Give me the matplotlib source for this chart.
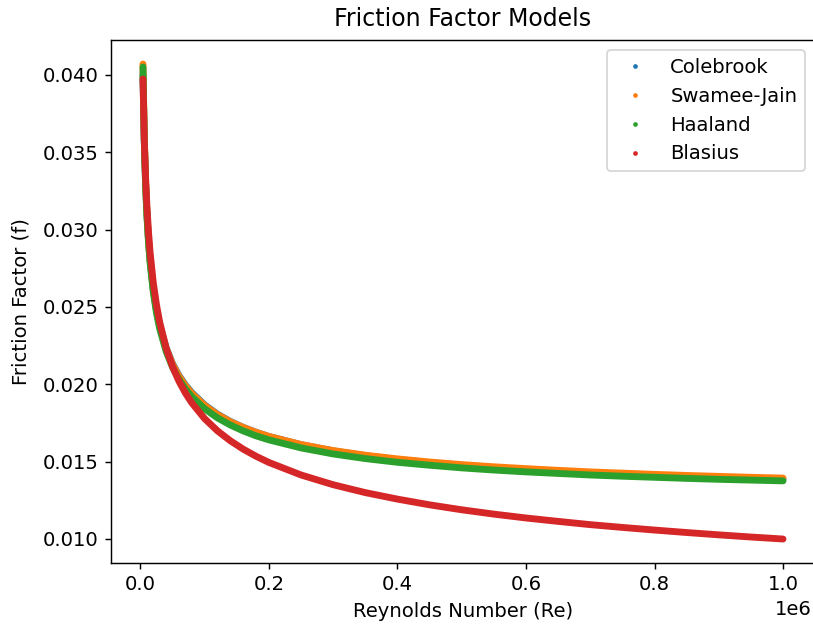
import matplotlib
matplotlib.use('Agg')
import matplotlib.pyplot as plt
from matplotlib.lines import Line2D

# Reynolds numbers and friction factors for each model
re = [4000, 6000, 8000, 10000, 12500, 15000, 20000, 25000, 30000, 40000,
      50000, 60000, 70000, 80000, 100000, 120000, 140000, 160000, 180000, 200000,
      250000, 300000, 350000, 400000, 450000, 500000, 550000, 600000, 650000, 700000,
      750000, 800000, 850000, 900000, 950000, 1000000]

f_colebrook = [0.04000, 0.03570, 0.03306, 0.03108, 0.02936, 0.02805, 0.02616, 0.02483, 0.02381, 0.02236,
               0.02133, 0.02056, 0.01995, 0.01945, 0.01866, 0.01806, 0.01759, 0.01721, 0.01689, 0.01662,
               0.01609, 0.01569, 0.01538, 0.01513, 0.01493, 0.01476, 0.01461, 0.01449, 0.01438, 0.01428,
               0.01419, 0.01411, 0.01404, 0.01397, 0.01391, 0.01385]

f_swamee = [0.04070, 0.03601, 0.03317, 0.03120, 0.02941, 0.02807, 0.02614, 0.02479, 0.02377, 0.02231,
            0.02128, 0.02051, 0.01990, 0.01940, 0.01862, 0.01803, 0.01757, 0.01720, 0.01689, 0.01662,
            0.01610, 0.01571, 0.01541, 0.01517, 0.01497, 0.01480, 0.01466, 0.01454, 0.01443, 0.01433,
            0.01425, 0.01417, 0.01410, 0.01404, 0.01398, 0.01393]

f_haaland = [0.04051, 0.03583, 0.03299, 0.03103, 0.02924, 0.02789, 0.02596, 0.02461, 0.02359, 0.02212,
             0.02109, 0.02031, 0.01969, 0.01919, 0.01841, 0.01782, 0.01736, 0.01698, 0.01666, 0.01640,
             0.01588, 0.01549, 0.01519, 0.01495, 0.01476, 0.01459, 0.01445, 0.01433, 0.01423, 0.01413,
             0.01405, 0.01398, 0.01391, 0.01385, 0.01380, 0.01375]

f_blasius = [0.03973, 0.03590, 0.03341, 0.03160, 0.02989, 0.02855, 0.02657, 0.02513, 0.02401, 0.02234,
             0.02113, 0.02019, 0.01943, 0.01879, 0.01777, 0.01698, 0.01634, 0.01580, 0.01534, 0.01494,
             0.01413, 0.01350, 0.01299, 0.01257, 0.01220, 0.01188, 0.01160, 0.01135, 0.01113, 0.01092,
             0.01074, 0.01057, 0.01041, 0.01026, 0.01012, 0.00999]

labels = ['Colebrook', 'Swamee-Jain', 'Haaland', 'Blasius']
series = [f_colebrook, f_swamee, f_haaland, f_blasius]
colors = ['tab:blue', 'tab:orange', 'tab:green', 'tab:red']

plt.rcParams['font.size'] = 10.9

fig = plt.figure(figsize=(813/130, 628/130), dpi=130)
ax = fig.add_axes([0.1365, 0.104, 0.866, 0.832])

for f, c in zip(series, colors):
    ax.plot(re, f, color=c, lw=3.8, solid_capstyle='round', solid_joinstyle='round')

ax.set_xlim(-45800, 1049800)
ax.set_ylim(0.00846, 0.04224)
ax.set_title('Friction Factor Models', pad=8)
ax.set_xlabel('Reynolds Number (Re)')
ax.set_ylabel('Friction Factor (f)', labelpad=6.5)
ax.xaxis.get_offset_text().set_x(0.995)

handles = [Line2D([], [], ls='', marker='o', ms=1.6, color=c) for c in colors]
ax.legend(handles, labels, loc='upper right')

fig.savefig('out.png', dpi=130)
